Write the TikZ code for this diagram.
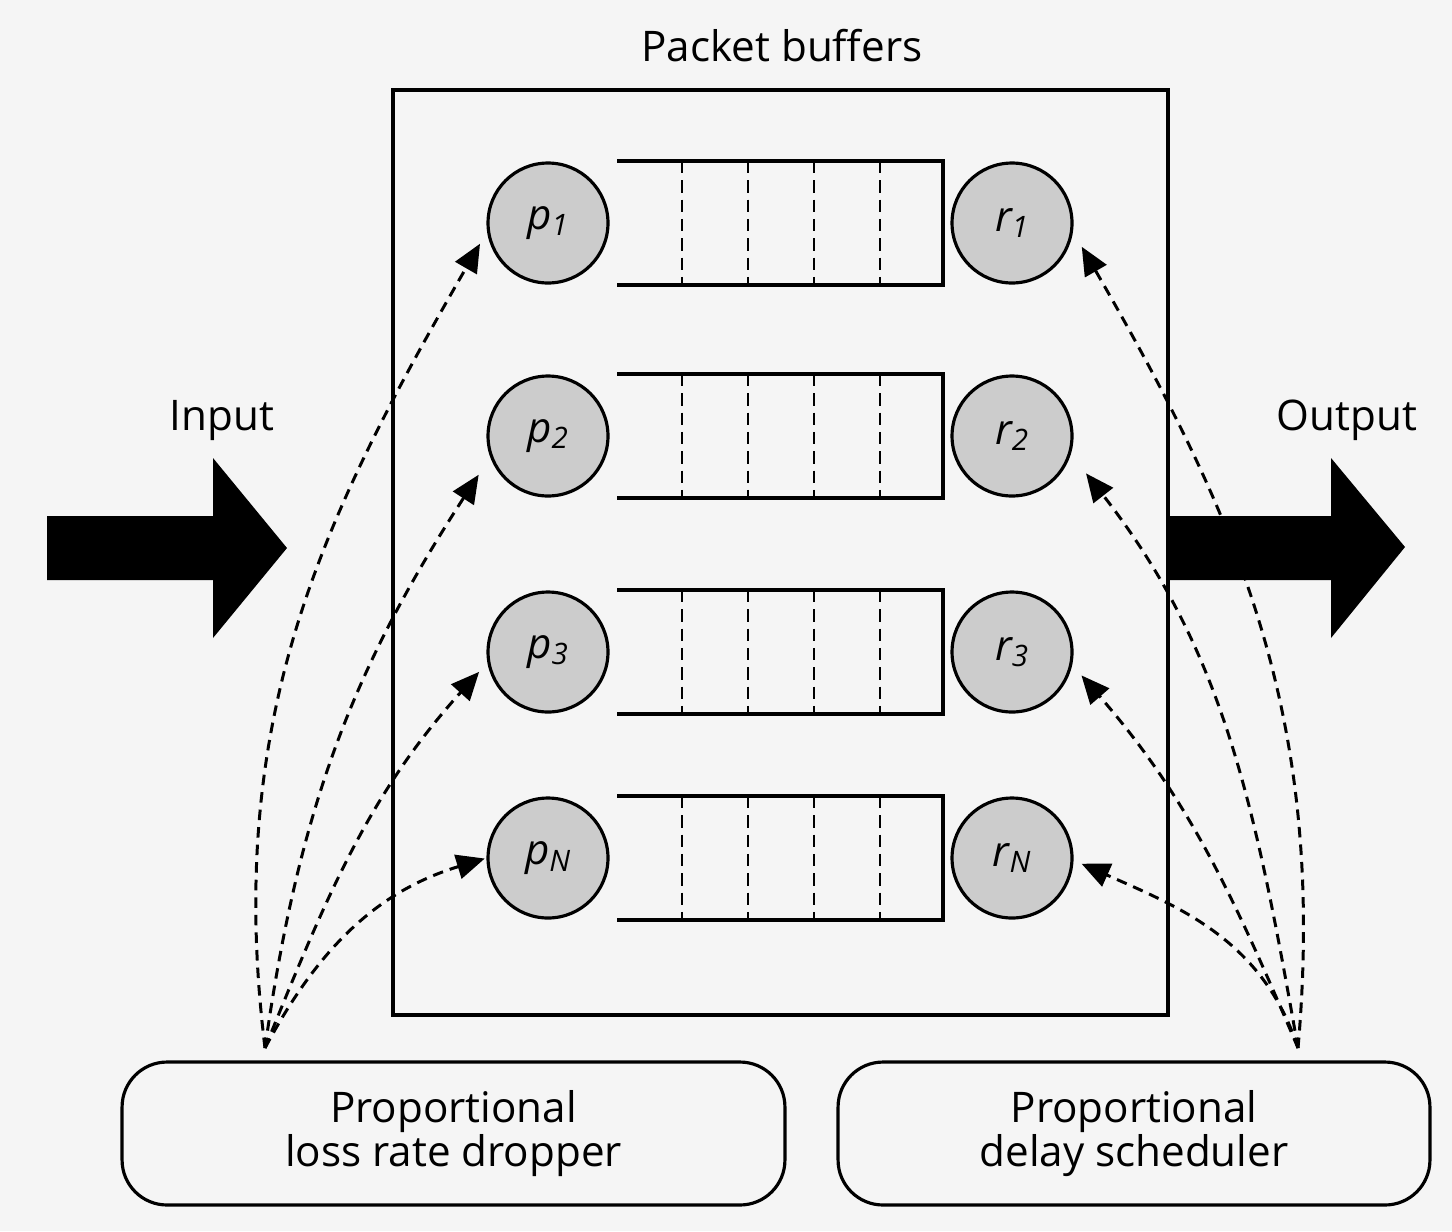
\documentclass[tikz,border=0pt]{standalone}
\usepackage{fontspec}
\setmainfont{Open Sans}
\usetikzlibrary{arrows.meta}

\tikzset{
  txt/.style={font=\fontsize{24}{24}\selectfont},
  rate/.style={circle,draw,line width=1.8pt,fill=gray!40,minimum size=2.4cm,inner sep=0pt,
    font=\fontsize{24}{24}\selectfont\itshape},
  queue/.style={line width=1.8pt},
  slot/.style={line width=1.2pt,dash pattern=on 7pt off 4pt},
  unit/.style={draw,line width=1.8pt,rounded corners=0.9cm,minimum height=2.86cm,align=center,
    font=\fontsize{24}{20.5}\selectfont},
  ctrl/.style={line width=1.7pt,dash pattern=on 6pt off 4pt,-{Triangle[length=16pt,width=14pt]}}
}

\begin{document}
\begin{tikzpicture}[x=0.02cm,y=-0.02cm]
  \useasboundingbox (0,0) rectangle (1452,1231);
  \fill[gray!8] (0,0) rectangle (1452,1231);

  \node[draw,line width=2pt,minimum width=15.5cm,minimum height=18.5cm] (buf) at (780.5,552.5) {};
  \node[txt,anchor=base] (title) at (782,61) {Packet buffers};

  \foreach \y in {223,436,652,858} {
    \draw[queue] (617,\y-62) -- (943,\y-62) -- (943,\y+62) -- (617,\y+62);
    \foreach \x in {682,748,814,880}
      \draw[slot] (\x,\y-62) -- (\x,\y+62);
  }

  \node[rate] (p1) at (548,223) {p\textsubscript{1}};
  \node[rate] (p2) at (548,436) {p\textsubscript{2}};
  \node[rate] (p3) at (548,652) {p\textsubscript{3}};
  \node[rate] (pN) at (548,858) {p\textsubscript{N}};

  \node[rate] (r1) at (1012,223) {r\textsubscript{1}};
  \node[rate] (r2) at (1012,436) {r\textsubscript{2}};
  \node[rate] (r3) at (1012,652) {r\textsubscript{3}};
  \node[rate] (rN) at (1012,858) {r\textsubscript{N}};

  \fill (47,516) -- (213,516) -- (213,458) -- (287,548) -- (213,638) -- (213,580) -- (47,580) -- cycle;
  \node[txt,anchor=base] (input) at (222,430) {Input};
  \fill (1167,516) -- (1331,516) -- (1331,458) -- (1405,547) -- (1331,638) -- (1331,580) -- (1167,580) -- cycle;
  \node[txt,anchor=base] (output) at (1347,430) {Output};

  \node[unit,minimum width=13.26cm] (drop) at (453.5,1133.5) {Proportional\\loss rate dropper};
  \node[unit,minimum width=11.84cm] (sched) at (1134,1133.5) {Proportional\\delay scheduler};

  \coordinate (ls) at (265,1048);
  \coordinate (rs) at (1298,1048);

  \draw[ctrl,shorten >=8pt] (ls) to[out=97,in=240] (p1.188);
  \draw[ctrl,shorten >=12pt] (ls) to[out=82,in=237] (p2.200);
  \draw[ctrl,shorten >=7pt] (ls) to[out=68,in=228] (p3.190);
  \draw[ctrl,shorten >=1pt] (ls) to[out=62,in=197] (pN.180);

  \draw[ctrl,shorten >=10pt] (rs) to[out=85,in=300] (r1.352);
  \draw[ctrl,shorten >=14pt] (rs) to[out=100,in=308] (r2.343);
  \draw[ctrl,shorten >=8pt] (rs) to[out=113,in=311] (r3.348);
  \draw[ctrl,shorten >=5pt] (rs) to[out=108,in=336] (rN.358);
\end{tikzpicture}
\end{document}
